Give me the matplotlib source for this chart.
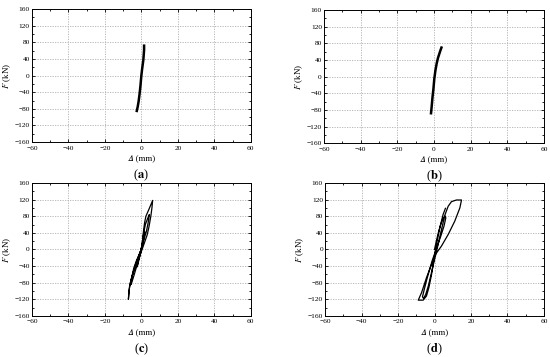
import matplotlib
matplotlib.use("Agg")
import matplotlib.pyplot as plt
from matplotlib.ticker import MultipleLocator

plt.rcParams['font.family'] = ['Liberation Serif', 'STIXGeneral', 'DejaVu Serif']
plt.rcParams['mathtext.fontset'] = 'stix'

# panel (a): first cycles, nearly elastic
a_disp = [-2.5, -2.0, -1.5, -1.0, -0.5, 0.0, 0.4, 0.8, 1.1, 1.3, 1.5, 1.5]
a_force = [-85, -75, -62, -45, -25, 0, 15, 28, 38, 50, 62, 72]

# panel (b)
b_disp = [-1.6, -1.2, -0.8, -0.3, 0.2, 0.8, 1.5, 2.2, 3.0, 3.6, 4.1]
b_force = [-88, -70, -50, -30, -5, 15, 32, 45, 56, 64, 70]

# panel (c): three cycles
c_disp = [0.0, 0.8, 1.6, 2.0, 1.4, 0.4, -0.8, -1.8, -2.3, -1.6, -0.6, 0.0,
          0.6, 1.3, 2.2, 3.4, 4.4, 3.8, 2.8, 1.4, 0.0, -1.4, -2.8, -4.0, -5.0, -5.6,
          -5.2, -4.2, -2.8, -1.2, 0.0,
          0.6, 1.2, 1.8, 2.5, 4.0, 6.2, 5.8, 5.2, 4.2, 3.2, 2.0, 0.8, 0.0, -1.2,
          -2.5, -4.0, -5.5, -6.5, -7.1, -6.8, -6.0, -4.8, -3.5, -2.0, -0.8, 0.0]
c_force = [0, 15, 32, 42, 30, 10, -12, -30, -42, -30, -12, 0,
           18, 40, 60, 74, 84, 66, 44, 24, 4, -20, -44, -62, -76, -84,
           -66, -46, -28, -12, 0,
           20, 45, 65, 80, 95, 118, 100, 80, 55, 35, 20, 5, -5, -20,
           -35, -50, -70, -90, -120, -100, -80, -60, -40, -22, -8, 0]

# panel (d): larger final cycle
d_disp = [0.0, 1.0, 2.2, 3.4, 4.6, 5.8, 6.2, 5.2, 3.6, 2.0, 0.4, -1.2, -2.8,
          -4.2, -5.6, -6.6, -6.0, -4.8, -3.4, -2.0, -0.6, 0.6, 2.0, 3.4, 4.8,
          5.8, 7.5, 9.3, 12.0, 14.8, 13.9, 11.1, 7.5, 3.8, 0.2, -1.6, -4.4,
          -7.1, -8.9, -6.2, -4.4, -3.1, -1.6, -0.2, 1.1, 2.9, 4.7, 6.0]
d_force = [0, 20, 42, 60, 74, 80, 76, 56, 34, 14, -6, -26, -50,
           -72, -96, -114, -118, -108, -88, -62, -36, -14, 12, 40, 66,
           84, 104, 115, 119, 119, 100, 68, 36, 8, -14, -36, -68,
           -104, -122, -122, -112, -92, -60, -20, 12, 52, 84, 99]

panels = [
    ([0.058, 0.602, 0.398, 0.3725], a_disp, a_force, 1.8, 'a'),
    ([0.589, 0.599, 0.400, 0.3725], b_disp, b_force, 1.8, 'b'),
    ([0.058, 0.115, 0.398, 0.3725], c_disp, c_force, 0.9, 'c'),
    ([0.591, 0.115, 0.398, 0.3725], d_disp, d_force, 0.9, 'd'),
]

fig = plt.figure(figsize=(5.5, 3.57), dpi=100)

for rect, xs, ys, lw, tag in panels:
    ax = fig.add_axes(rect)
    ax.plot(xs, ys, color='black', lw=lw)
    ax.set_xlim(-60, 60)
    ax.set_ylim(-160, 160)
    ax.xaxis.set_major_locator(MultipleLocator(20))
    ax.xaxis.set_minor_locator(MultipleLocator(10))
    ax.yaxis.set_major_locator(MultipleLocator(40))
    ax.yaxis.set_minor_locator(MultipleLocator(20))
    ax.tick_params(which='both', direction='in', top=True, right=True,
                   labelsize=5.3, width=0.6)
    ax.tick_params(axis='x', pad=2.5)
    ax.tick_params(axis='y', pad=1.5)
    ax.tick_params(which='major', length=2.5)
    ax.tick_params(which='minor', length=1.5)
    ax.grid(True, which='major', color='#b0b0b0', ls=(0, (1.5, 1.5)), lw=0.6)
    for s in ax.spines.values():
        s.set_linewidth(0.7)
    ax.set_xlabel('\U0001D6E5 (mm)', fontsize=6.5, labelpad=2.5)
    ax.set_ylabel(r'$\mathit{F}$ (kN)', fontsize=6.5, labelpad=1)
    ax.text(0.5, -0.25, '(' + r'$\mathbf{' + tag + '}$' + ')', transform=ax.transAxes,
            ha='center', va='center', fontsize=9)

fig.savefig('out.png', dpi=100, facecolor='white')
